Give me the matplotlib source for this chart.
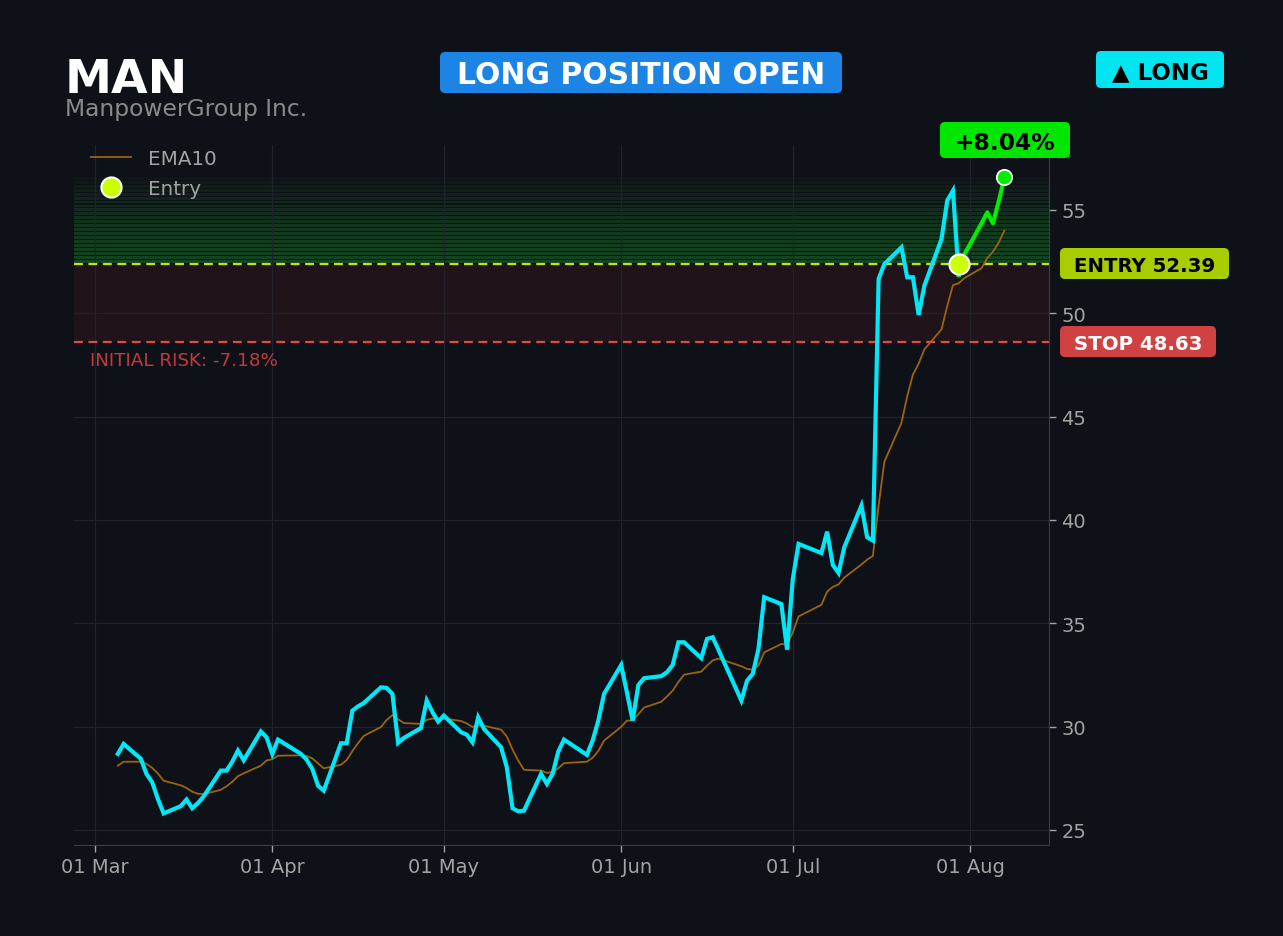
import matplotlib
matplotlib.use("Agg")
import matplotlib.pyplot as plt
import matplotlib.dates as mdates
from matplotlib.patches import FancyBboxPatch
import pandas as pd

# ---- data ----
ticker = "MAN"
company = "ManpowerGroup Inc."
holidays = ["2026-04-03", "2026-05-25", "2026-06-19", "2026-07-03"]
close = [
    28.68, 29.16,
    28.45, 27.71, 27.31, 26.50, 25.80,
    26.15, 26.47, 26.05, 26.30, 26.62,
    27.87, 27.87, 28.30, 28.84, 28.37,
    29.76, 29.48, 28.68, 29.37,
    28.68, 28.40, 27.95, 27.14, 26.90,
    29.19, 29.19, 30.77, 30.98, 31.14,
    31.90, 31.87, 31.58, 29.21, 29.45,
    29.93, 31.26, 30.70, 30.24, 30.53,
    29.73, 29.61, 29.24, 30.45, 29.89,
    29.00, 28.03, 26.05, 25.90, 25.93,
    27.71, 27.23, 27.71, 28.79, 29.37,
    28.63, 29.32, 30.29, 31.58,
    32.98, 31.65, 30.29, 32.01, 32.34,
    32.44, 32.63, 32.98, 34.08, 34.08,
    33.31, 34.24, 34.32, 33.72,
    31.26, 32.22, 32.55, 33.76, 36.26,
    35.93, 33.72, 37.14, 38.84,
    38.40, 39.43, 37.82, 37.43, 38.68,
    40.69, 39.16, 39.00, 51.66, 52.38,
    53.19, 51.74, 51.74, 49.92, 51.33,
    53.59, 55.45, 55.93, 51.85, 52.85,
    54.35, 54.88, 54.35, 55.40, 56.60,
]
ema10 = [
    28.11, 28.30,
    28.30, 28.20, 28.00, 27.73, 27.38,
    27.16, 27.03, 26.85, 26.75, 26.73,
    26.94, 27.11, 27.33, 27.60, 27.74,
    28.11, 28.36, 28.42, 28.59,
    28.61, 28.57, 28.46, 28.22, 27.98,
    28.15, 28.38, 28.81, 29.20, 29.55,
    29.98, 30.32, 30.55, 30.35, 30.17,
    30.13, 30.32, 30.39, 30.36, 30.39,
    30.27, 30.15, 29.98, 30.07, 30.04,
    29.85, 29.52, 28.89, 28.35, 27.91,
    27.87, 27.76, 27.80, 27.98, 28.23,
    28.30, 28.49, 28.82, 29.32,
    29.99, 30.29, 30.29, 30.60, 30.92,
    31.20, 31.46, 31.74, 32.16, 32.51,
    32.66, 32.95, 33.20, 33.29,
    32.92, 32.79, 32.75, 32.95, 33.59,
    34.00, 33.97, 34.55, 35.33,
    35.89, 36.53, 36.76, 36.88, 37.21,
    37.84, 38.08, 38.25, 40.69, 42.81,
    44.70, 45.98, 47.03, 47.56, 48.25,
    49.22, 50.35, 51.36, 51.45, 51.70,
    52.18, 52.67, 52.98, 53.42, 54.00,
]
entry_date = "2026-07-30"
entry_price = 52.39
stop_price = 48.63
pnl_pct = 8.04
risk_pct = -7.18

dates = pd.bdate_range("2026-03-05", "2026-08-07")
dates = dates[~dates.isin(pd.to_datetime(holidays))]
assert len(dates) == len(close) == len(ema10)
s = pd.Series(close, index=dates)
e = pd.Series(ema10, index=dates)
ix = dates.get_loc(pd.Timestamp(entry_date))

# ---- style ----
BG = "#0e1117"
GRID = "#1f232b"
TXT = "#a3a3a3"
CYAN = "#00e8f8"
LIME = "#00ee00"
ENTRY_C = "#c4e600"
STOP_C = "#e04a4a"
W, H = 1283, 937

fig = plt.figure(figsize=(W / 100, H / 100), dpi=100, facecolor=BG)
ax = fig.add_axes([74 / W, 1 - 846 / H, (1049 - 74) / W, (846 - 146) / H])
ax.set_facecolor(BG)

# zones
ax.axhspan(stop_price, entry_price, color="#e03c3c", alpha=0.09, lw=0, zorder=0)
n_band = 22
top = close[-1]
step = (top - entry_price) / n_band
for i in range(n_band):
    a = 0.30 * (1 - i / n_band) ** 0.7
    ax.axhspan(entry_price + i * step + 0.05, entry_price + (i + 1) * step,
               color="#22c03a", alpha=a, lw=0, zorder=0)

ax.axhline(entry_price, color=ENTRY_C, lw=1.6, ls=(0, (4, 2.5)), zorder=2)
ax.axhline(stop_price, color=STOP_C, lw=1.6, ls=(0, (4, 2.5)), zorder=2)

ax.plot(e.index, e.values, color="#9a6410", lw=1.3, label="EMA10", zorder=3)
ax.plot(s.index[:ix + 1], s.values[:ix + 1], color=CYAN, lw=3.0, zorder=4,
        solid_joinstyle="miter")
ax.plot(s.index[ix:], s.values[ix:], color=LIME, lw=3.0, zorder=4)
ax.plot([s.index[ix]], [entry_price], "o", ms=14.5, color="#ccff00", mec="white",
        mew=1.5, zorder=6, label="Entry", ls="none")
ax.plot([s.index[-1]], [close[-1]], "o", ms=11, color=LIME, mec="white",
        mew=1.3, zorder=6)

ax.set_xlim(pd.Timestamp("2026-02-25 08:00"), pd.Timestamp("2026-08-14 19:00"))
ax.set_ylim(24.27, 58.14)
ax.set_yticks([25, 30, 35, 40, 45, 50, 55])
ax.yaxis.tick_right()
ax.xaxis.set_major_locator(mdates.MonthLocator())
ax.xaxis.set_major_formatter(mdates.DateFormatter("%d %b"))
ax.tick_params(colors=TXT, labelsize=14, length=5, width=1)
ax.tick_params(axis="x", pad=4)
ax.tick_params(axis="y", pad=4)
ax.grid(True, color=GRID, lw=0.9)
for side in ("left", "top"):
    ax.spines[side].set_visible(False)
for side in ("right", "bottom"):
    ax.spines[side].set_color("#3a3e46")

leg = ax.legend(loc="upper left", frameon=False, fontsize=14.3, labelcolor=TXT,
                bbox_to_anchor=(0.83, (H - 142) / 100),
                bbox_transform=fig.dpi_scale_trans, borderaxespad=0,
                handletextpad=0.85, labelspacing=0.55, handlelength=2.0)

T = fig.dpi_scale_trans


def badge(x0, y0, x1, y1, face, label, color, size):
    box = FancyBboxPatch((x0 / 100, (H - y1) / 100), (x1 - x0) / 100, (y1 - y0) / 100,
                         boxstyle="round,pad=0,rounding_size=0.05", transform=T,
                         facecolor=face, edgecolor="none", zorder=5)
    fig.add_artist(box)
    cap = 0.73 * size * 100 / 72
    fig.text((x0 + x1) / 200, (H - (y0 + y1) / 2 - cap / 2) / 100, label, transform=T,
             ha="center", va="baseline", color=color, fontsize=size,
             fontweight="bold", zorder=6)


fig.text(65 / 100, (H - 93) / 100, ticker, transform=T, color="white",
         fontsize=34, fontweight="bold", ha="left", va="baseline")
fig.text(65 / 100, (H - 116) / 100, company, transform=T, color="#8a8a8a",
         fontsize=16.8, ha="left", va="baseline")

badge(440, 53, 842, 94, "#1b84e5", "LONG POSITION OPEN", "white", 21.5)
badge(1096, 52, 1224, 89, "#00e5f0", "▲ LONG", "black", 16.5)
badge(940, 123, 1070, 159, "#00e600", f"+{pnl_pct:.2f}%", "black", 16.8)
badge(1060, 249, 1229, 280, "#a8cc00", f"ENTRY {entry_price:.2f}", "black", 14.2)
badge(1060, 327, 1216, 358, "#d04242", f"STOP {stop_price:.2f}", "white", 14.2)

fig.text(90 / 100, (H - 366) / 100, f"INITIAL RISK: {risk_pct:.2f}%", transform=T,
         color="#c23a3c", fontsize=13.2, ha="left", va="baseline")

fig.savefig("out.png", dpi=100, facecolor=BG)
